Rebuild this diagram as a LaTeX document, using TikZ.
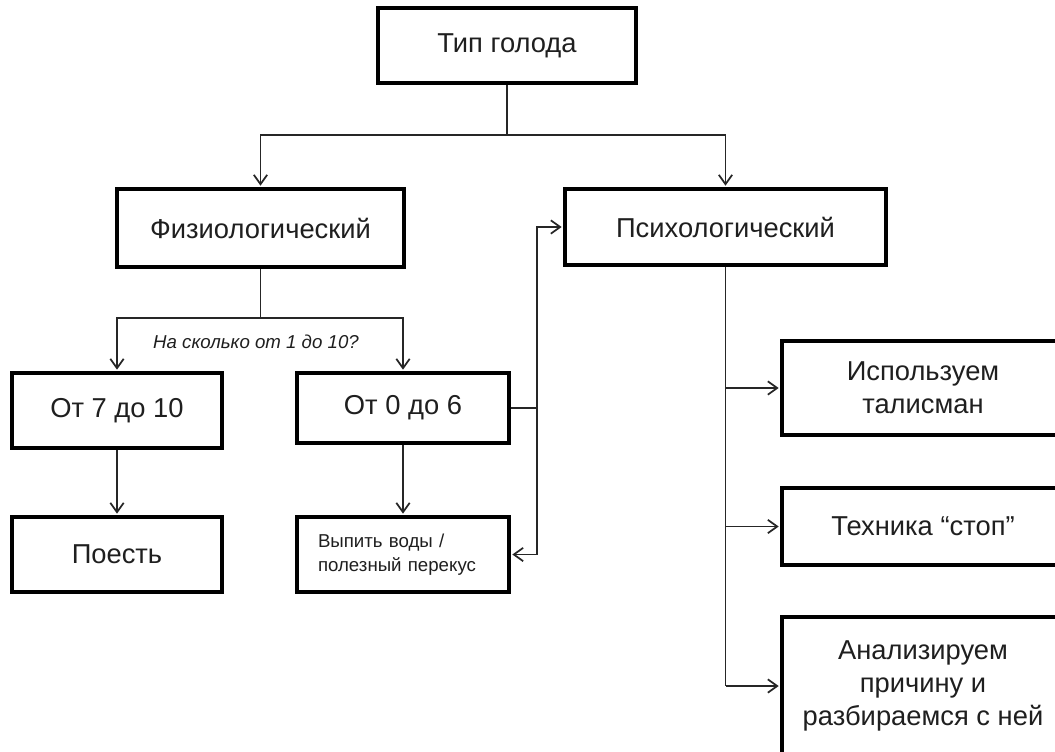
\documentclass[tikz,border=0pt]{standalone}
\usepackage{fontspec}
\setmainfont{Liberation Sans}
\usetikzlibrary{arrows.meta,calc}
\begin{document}
\begin{tikzpicture}[x=0.75pt,y=-0.75pt,
  box/.style={draw=black, line width=2.6pt, fill=white, align=center, inner sep=0pt,
    font=\fontsize{20.5}{25}\selectfont, text=black!88},
  conn/.style={draw=black!85, line width=1.3pt},
  arr/.style={conn, -{Straight Barb[length=7pt,width=10pt]}, shorten >=1.2pt},
  lbl/.style={font=\fontsize{14}{16}\selectfont\itshape, text=black!88, inner sep=0pt},
]
\clip (0,0) rectangle (1055,751);
\fill[white] (0,0) rectangle (1055,751);

\node[box, minimum width=193.5pt, minimum height=56.25pt] (top) at (507,45.5) {Тип голода};
\node[box, minimum width=215.25pt, minimum height=58.5pt] (fiz) at (260.5,228) {Физиологический};
\node[box, minimum width=240.75pt, minimum height=57pt] (psy) at (725.5,227) {Психологический};
\node[box, minimum width=157.5pt, minimum height=56.25pt] (a710) at (117,410.5) {От 7 до 10};
\node[box, minimum width=159pt, minimum height=52.5pt] (a06) at (403,408) {От 0 до 6};
\node[box, minimum width=157.5pt, minimum height=56.25pt] (poest) at (117,554.5) {Поесть};
\node[box, minimum width=159pt, minimum height=56.25pt, text width=127.5pt, align=left,
  font=\fontsize{14}{18}\selectfont] (voda) at (403,554.5) {Выпить воды /\\полезный перекус};
\node[box, minimum width=211.5pt, minimum height=70.5pt] (tal) at (923,388) {Используем\\талисман};
\node[box, minimum width=211.5pt, minimum height=57.75pt] (stop) at (923,526.5) {Техника “стоп”};
\node[box, minimum width=211.5pt, minimum height=103.5pt] (anal) at (923,686) {Анализируем\\причину и\\разбираемся с ней};

\draw[conn] (top.south) -- (507,135) coordinate (tj);
\draw[arr] (tj) -| (fiz.north);
\draw[arr] (tj) -| (psy.north);

\draw[conn] (fiz.south) -- (260.5,318) coordinate (fj);
\draw[arr] (fj) -| (a710.north);
\draw[arr] (fj) -| (a06.north);
\node[lbl] (q) at (256,342) {На сколько от 1 до 10?};

\draw[arr] (a710) -- (poest);
\draw[arr] (a06) -- (voda);

\draw[conn] (a06.east) -- (537,408) coordinate (j2);
\draw[arr] (j2) |- (psy.west);
\draw[arr] (j2) |- (voda.east);

\draw[conn] (psy.south) -- (psy.south |- anal.west);
\draw[arr] (psy.south |- tal.west) -- (tal.west);
\draw[arr] (psy.south |- stop.west) -- (stop.west);
\draw[arr] (psy.south |- anal.west) -- (anal.west);
\end{tikzpicture}
\end{document}
